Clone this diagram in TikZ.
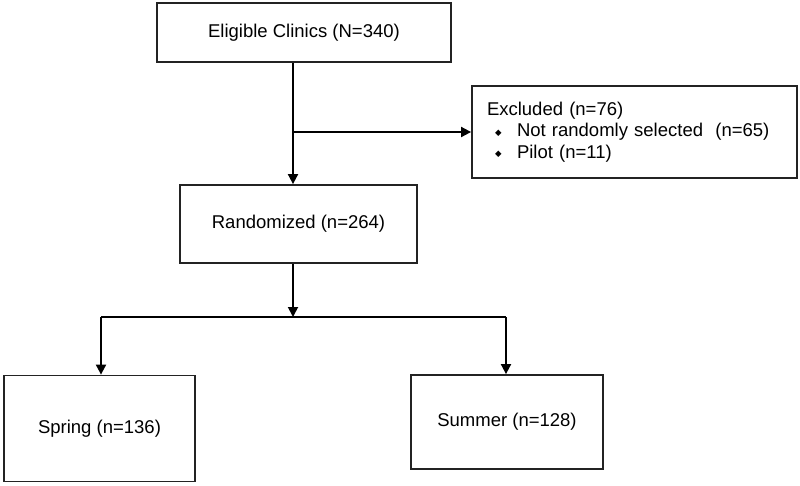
\documentclass[tikz,border=0pt]{standalone}
\usepackage{fontspec}
\setmainfont{Liberation Sans}
\newfontfamily\symfont{DejaVu Sans}
\usetikzlibrary{arrows.meta}
\newcommand{\bulletitem}[1]{\hspace*{8pt}\makebox[9pt][l]{\raisebox{1.5pt}{\symfont\fontsize{8.5}{8.5}\selectfont ◆}}\hspace*{13pt}#1}
\definecolor{linegray}{RGB}{35,35,35}
\begin{document}
\begin{tikzpicture}[x=1pt,y=-1pt,
  box/.style={draw=linegray, line width=1.8pt, fill=white, inner sep=0pt,
    font=\fontsize{18.5}{21.5}\selectfont},
  conn/.style={line width=1.8pt, draw=black},
  arr/.style={conn, -{Triangle[length=10pt,width=10pt]}}]
\useasboundingbox (0,0) rectangle (800,485);
\node[box, minimum width=294pt, minimum height=59pt] (elig) at (304,32.5) {Eligible Clinics (N=340)};
\node[box, minimum width=237pt, minimum height=78pt] (rand) at (298.5,224) {Randomized (n=264)};
\node[box, minimum width=325pt, minimum height=92pt, text width=295pt, align=left, inner xsep=15pt] (excl) at (634.5,132)
  {Excluded (n=76)\\ \bulletitem{Not randomly selected\ \ (n=65)}\\ \bulletitem{Pilot (n=11)}};
\node[box, minimum width=191pt, minimum height=106pt] (spring) at (99.5,428.5) {Spring (n=136)};
\node[box, minimum width=192pt, minimum height=94pt] (summer) at (507,422) {Summer (n=128)};
\coordinate (trunk) at (293,0);
\coordinate (j1) at (293,132);
\coordinate (split) at (293,317);
\coordinate (lb) at (101,317);
\coordinate (rb) at (506,317);
\draw[arr] (elig.south -| trunk) -- (rand.north -| trunk);
\draw[arr] (j1) -- (j1 -| excl.west);
\draw[arr] (rand.south -| split) -- (split);
\draw[conn] (lb) -- (rb);
\draw[arr] (lb) -- (lb |- spring.north);
\draw[arr] (rb) -- (rb |- summer.north);
\end{tikzpicture}
\end{document}
